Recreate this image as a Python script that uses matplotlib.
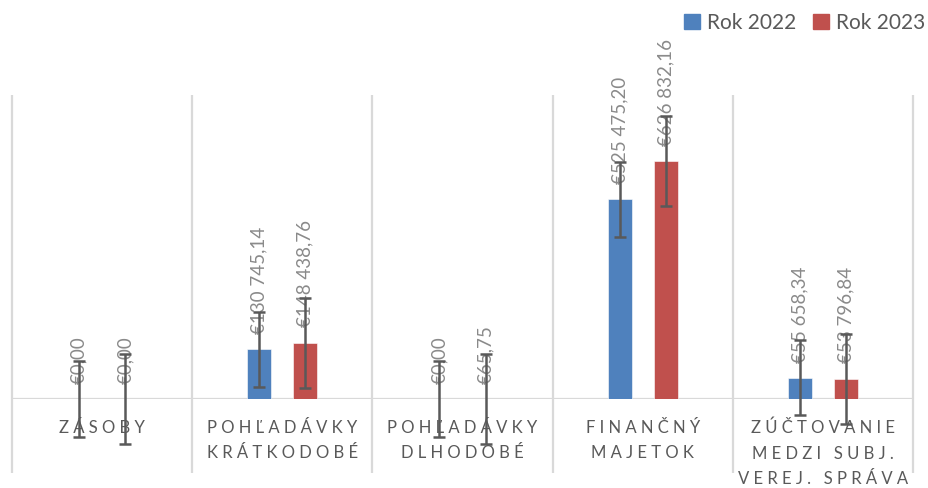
import matplotlib.pyplot as plt
import numpy as np
from matplotlib.patches import Patch

plt.rcParams['font.family'] = ['Lato', 'DejaVu Sans']

# data
categories = ["ZÁSOBY", "POHĽADÁVKY\nKRÁTKODOBÉ", "POHĽADÁVKY\nDLHODOBÉ",
              "FINANČNÝ\nMAJETOK", "ZÚČTOVANIE\nMEDZI SUBJ.\nVEREJ. SPRÁVA"]
rok_2022 = [0.00, 130745.14, 0.00, 525475.20, 55658.34]
rok_2023 = [0.00, 148438.76, 65.75, 626832.16, 53796.84]
err_2022 = [98700, 98700, 98700, 98700, 98700]
err_2023 = [118400, 118400, 118400, 118400, 118400]
series_names = ["Rok 2022", "Rok 2023"]

blue = '#4F81BD'
red = '#C0504D'
grid_c = '#d9d9d9'
text_c = '#595959'


def euro(v):
    s = f"{v:,.2f}".replace(",", " ").replace(".", ",")
    return "€" + s


def spaced(label):
    lines = []
    for line in label.split("\n"):
        words = [" ".join(w) for w in line.split(" ")]
        lines.append("   ".join(words))
    return "\n".join(lines)


fig = plt.figure(figsize=(9.29, 4.88), dpi=100)
ax = fig.add_axes([12 / 929, 89 / 488, 901 / 929, 304 / 488])

x = np.arange(len(categories))
w = 0.133
off = 0.128

for vals, errs, col, dx in [(rok_2022, err_2022, blue, -off), (rok_2023, err_2023, red, off)]:
    ax.bar(x + dx, vals, width=w, color=col, edgecolor='white', linewidth=0.4, zorder=2)
    eb = ax.errorbar(x + dx, vals, yerr=errs, fmt='none', ecolor='#595959',
                     elinewidth=1.8, capsize=4.3, capthick=1.8, zorder=4)
    for part in eb.get_children():
        part.set_clip_on(False)
    for xi, v in zip(x + dx, vals):
        ax.annotate(euro(v), (xi, v), xytext=(0, 11), textcoords='offset points',
                    rotation=90, ha='center', va='bottom', fontsize=13.5,
                    color='#8a8a8a', zorder=3, annotation_clip=False)

ax.set_xlim(-0.5, len(categories) - 0.5)
ax.set_ylim(0, 800000)

# category separators, reaching down through the labels
bounds = np.arange(len(categories) + 1) - 0.5
ax.vlines(bounds, -0.245, 1, transform=ax.get_xaxis_transform(),
          colors=grid_c, linewidth=1.6, clip_on=False, zorder=1)
ax.axhline(0, color=grid_c, linewidth=1.6, zorder=1)

for s in ax.spines.values():
    s.set_visible(False)
ax.set_yticks([])
ax.set_xticks(x)
ax.set_xticklabels([spaced(c) for c in categories], fontsize=12, color=text_c,
                   linespacing=1.72, va='top')
ax.tick_params(axis='x', length=0, pad=15)

handles = [Patch(color=blue), Patch(color=red)]
fig.legend(handles, series_names, loc='upper right', bbox_to_anchor=(1.016, 1.012),
           ncol=2, frameon=False, fontsize=15, handlelength=0.75, handleheight=0.75,
           handletextpad=0.35, columnspacing=0.8, labelcolor=text_c)

fig.savefig('out.png', dpi=100)
